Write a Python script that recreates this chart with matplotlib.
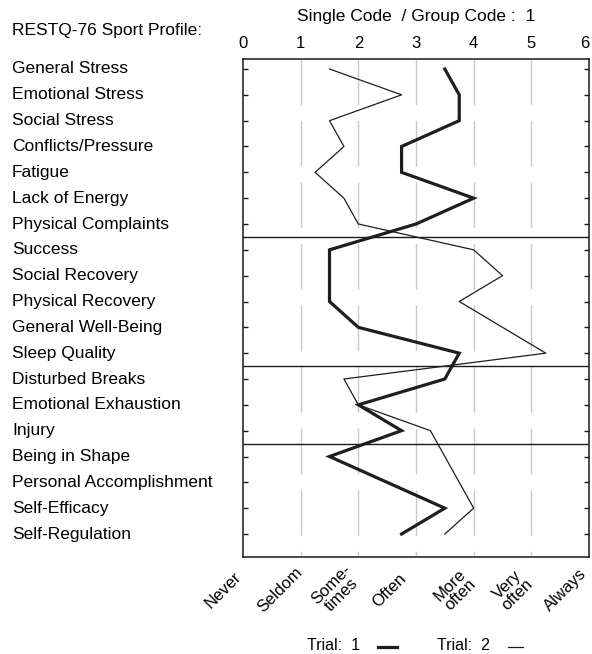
import matplotlib
matplotlib.use("Agg")
import matplotlib.pyplot as plt
from matplotlib.lines import Line2D
from matplotlib import transforms

plt.rcParams['font.family'] = ['Liberation Sans', 'DejaVu Sans']

categories = ["General Stress", "Emotional Stress", "Social Stress", "Conflicts/Pressure",
              "Fatigue", "Lack of Energy", "Physical Complaints", "Success",
              "Social Recovery", "Physical Recovery", "General Well-Being", "Sleep Quality",
              "Disturbed Breaks", "Emotional Exhaustion", "Injury", "Being in Shape",
              "Personal Accomplishment", "Self-Efficacy", "Self-Regulation"]
trial1 = [3.5, 3.75, 3.75, 2.75, 2.75, 4.0, 3.0, 1.5, 1.5, 1.5, 2.0, 3.75,
          3.5, 2.0, 2.75, 1.5, 2.5, 3.5, 2.75]
trial2 = [1.5, 2.75, 1.5, 1.75, 1.25, 1.75, 2.0, 4.0, 4.5, 3.75, 4.5, 5.25,
          1.75, 2.0, 3.25, 3.5, 3.75, 4.0, 3.5]
group_sizes = [7, 5, 3, 4]
scale_ticks = [0, 1, 2, 3, 4, 5, 6]
scale_labels = ["Never", "Seldom", "Some-\ntimes", "Often", "More\noften", "Very\noften", "Always"]
label_dx_px = [-20, -21, -22, -27, -19, -19, -24]

W, H = 592, 654
fig = plt.figure(figsize=(W / 100, H / 100), dpi=100)
ax = fig.add_axes([243 / W, 1 - 557 / H, (589 - 243) / W, (557 - 59) / H])

ytop, ybot = -0.387, 18.89
ax.set_xlim(0, 6)
ax.set_ylim(ybot, ytop)

# dashed gray grid
for x in scale_ticks[1:-1]:
    ax.plot([x, x], [ytop, ybot], color="#c8c8c8", lw=1.0,
            dashes=(32.8, 11.5), zorder=1, solid_capstyle='butt', dash_capstyle='butt')

# separators
pos = 0
for g in group_sizes[:-1]:
    pos += g
    ax.axhline(pos - 0.5, color="#1a1a1a", lw=1.0, zorder=2)

rows = list(range(len(categories)))
ax.plot(trial1, rows, color="#1e1e1e", lw=2.3, zorder=4, solid_joinstyle='miter')
ax.plot(trial2, rows, color="#1e1e1e", lw=0.9, zorder=3)

for s in ax.spines.values():
    s.set_linewidth(1.1)
    s.set_color("#1a1a1a")

ax.xaxis.tick_top()
ax.set_xticks(scale_ticks)
ax.tick_params(axis='x', length=0, pad=6, labelsize=12)
# keep the last top label inside the canvas
lbls = ax.get_xticklabels()
lbls[-1].set_transform(lbls[-1].get_transform() +
                       transforms.ScaledTranslation(-4 / 100, 0, fig.dpi_scale_trans))
ax.set_yticks(rows)
ax.set_yticklabels([])
ax.tick_params(axis='y', direction='in', length=3.5, width=1.0, left=True, right=True,
               color="#1a1a1a")

# row labels
tr = transforms.blended_transform_factory(fig.transFigure, ax.transData)
for i, c in enumerate(categories):
    ax.text(12 / W, i, c, transform=tr, ha='left', va='center', fontsize=12.5)

fig.text(12 / W, 1 - 30 / H, "RESTQ-76 Sport Profile:", ha='left', va='center', fontsize=12.5)
fig.text(416 / W, 1 - 17 / H, "Single Code  / Group Code :  1", ha='center', va='center',
         fontsize=12.5)

# bottom scale labels
for x, lab, dx in zip(scale_ticks, scale_labels, label_dx_px):
    ax.annotate(lab, xy=(x, H - 590), xycoords=('data', 'figure pixels'),
                xytext=(dx * 0.72, 0), textcoords='offset points',
                rotation=45, rotation_mode='anchor', ha='center', va='center',
                multialignment='center', linespacing=0.95, fontsize=12, annotation_clip=False)

# legend
fig.text(307 / W, 1 - 645 / H, "Trial:  1", ha='left', va='center', fontsize=11.5)
fig.add_artist(Line2D([378 / W, 397 / W], [1 - 647 / H, 1 - 647 / H],
                      transform=fig.transFigure, color="#1e1e1e", lw=2.3))
fig.text(437 / W, 1 - 645 / H, "Trial:  2", ha='left', va='center', fontsize=11.5)
fig.add_artist(Line2D([508 / W, 523 / W], [1 - 647 / H, 1 - 647 / H],
                      transform=fig.transFigure, color="#1e1e1e", lw=0.9))

fig.savefig("out.png", dpi=100)
